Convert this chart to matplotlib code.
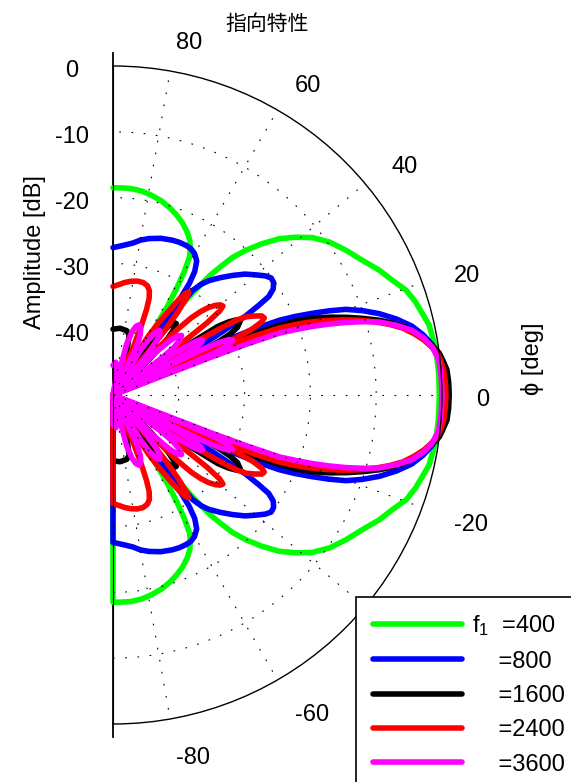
import numpy as np
import matplotlib
matplotlib.use('Agg')
import matplotlib.pyplot as plt
from matplotlib.transforms import ScaledTranslation

plt.rcParams['font.family'] = ['Liberation Sans', 'Noto Sans CJK JP', 'DejaVu Sans']
plt.rcParams['font.size'] = 17
plt.rcParams['mathtext.fontset'] = 'custom'
plt.rcParams['mathtext.rm'] = 'Liberation Sans'
plt.rcParams['mathtext.it'] = 'Liberation Sans'

# upper half (0..90 deg), the pattern is symmetric
green_ang = [0, 4, 8.2, 12.5, 17.1, 19.7, 22.3, 25.1, 28.3, 31.8, 35.2, 38.3, 40.8, 43.2, 45.5, 47.5,
             49, 50, 51, 52, 53, 54.2, 55.3, 56.2, 56.8, 57.5,
             58, 58.5, 59.2, 60, 61, 62, 63.5, 65.5, 68, 70.5, 73, 76, 79, 82, 85, 88, 90]
green_db = [-0.4, -0.4, -0.45, -0.8, -1.9, -2.7, -4.1, -5.3, -6.9, -8.3, -9.7, -11.4, -13.3, -15.3, -17.8, -20.2,
            -22.3, -24.5, -26.7, -30.3, -33.9, -35.8, -37.4, -39, -40.6, -50,
            -38, -34, -31, -28.3, -26, -25, -23.8, -22.8, -21.8, -21, -20.3, -19.6, -19.1, -18.7, -18.5, -18.5, -18.5]

blue_ang = [0, 3, 6, 9, 11, 13, 15, 17, 18.7, 20.2, 21.3, 22.3, 23.3, 24.2, 25, 25.7, 26.5, 27.3,
            28.8, 29.8, 30.8, 31.6, 32.3, 33.5, 35, 36.5, 38, 40, 42.5, 45, 47.5, 50, 51.5, 52.7, 53.5, 54.2,
            55, 55.6, 56.5, 58, 60, 62, 64, 66.5, 69, 73, 77, 80, 82.5, 86, 90]
blue_db = [0.6, 0.5, 0, -0.9, -2, -3.4, -5.4, -7.7, -10, -12.3, -14.8, -17.3, -19.8, -22.3, -26, -30, -36, -50,
           -40, -32, -26.5, -24, -22, -20.8, -20.2, -20.1, -20.6, -21.6, -22.8, -24.3, -25.8, -27.3, -28.5, -30, -34, -50,
           -33, -29.5, -27.5, -26, -25.2, -24.8, -24.7, -24.7, -24.8, -25.1, -25.6, -26.1, -26.7, -27.2, -27.6]

black_ang = [0, 2.2, 4.3, 6, 7.3, 8.6, 9.9, 11.5, 13, 14.4, 15.7, 17, 18.4, 19.8, 21.1, 22, 22.7, 23.3, 23.8, 24.6, 25.3,
             26, 26.8, 27.5, 28.5, 30, 31.3, 32.3, 33.2, 34.2, 35,
             43, 44.5, 46, 47.3, 48.5, 49.8, 51, 53, 54.2, 55,
             56, 58, 61, 64, 66,
             70, 71.5, 73, 75, 78, 84, 90]
black_db = [1.1, 1.05, 0.9, 0.4, 0, -0.8, -1.7, -3, -4.3, -6.1, -8, -10.2, -12.6, -15.1, -17.6, -20, -22.6, -26, -30, -38, -50,
            -40, -32, -30, -28.5, -27.7, -28, -29.2, -31, -38, -50,
            -50, -42, -38, -36.2, -35.5, -35.6, -36.5, -39.5, -44, -50,
            -50, -45, -43.5, -45, -50,
            -50, -45, -42.5, -40.5, -40, -39.8, -40]

red_ang = [0, 2.2, 4.3, 5.7, 7, 8.5, 10, 11.5, 13, 14.3, 15.5, 16.8, 18, 19.3, 20.5, 21.3, 22, 22.6, 23, 23.6,
           24.2, 24.8, 25.4, 26.2, 27, 28, 29.2, 30.4, 31.2, 31.8, 32.4, 33,
           36.5, 37, 37.5, 38.2, 39, 40, 41.2, 42.5, 43.6, 44.6, 45.5, 46.2, 46.8,
           50, 50.6, 51.3, 52, 52.8, 53.6, 54.5, 55.5, 56.6, 57.8, 59, 60.2, 61,
           66, 67, 67.8, 68.6, 69.5, 70.8, 72.5, 75, 78, 81, 84, 87, 90]
red_db = [0.6, 0.55, 0.4, 0.15, -0.2, -1, -2, -3.3, -4.8, -6.6, -8.5, -10.7, -13, -15.8, -18.5, -20.8, -23, -26.5, -30, -50,
          -38, -30, -26.5, -24.8, -24.2, -24.4, -25.4, -26.5, -28, -30.5, -34, -50,
          -50, -37, -32, -29.4, -28.5, -28.7, -29.3, -30.3, -31.6, -33.3, -36, -40, -50,
          -50, -42, -37.5, -34, -31.6, -30.6, -31, -32.6, -35, -37.2, -39.5, -43, -50,
          -50, -42, -38.5, -36, -34.3, -33.2, -32.6, -32.3, -32.3, -32.5, -32.8, -33.2, -33.5]

magenta_ang = [0, 3, 6.1, 8.5, 10.4, 12.2, 13.8, 15.3, 16.3, 17.3, 18.2, 19, 19.7, 20.4, 20.8, 21.1, 21.5,
               22, 22.6, 23.5, 24.5, 25.5, 26.3, 27, 27.6, 28,
               28.5, 29, 29.7, 30.5, 31.4, 32.3, 33.2, 34.2, 35,
               36, 37, 38, 39.5, 41, 42.5, 43.7, 45, 46,
               48, 49.5, 50.8, 52.3, 54, 55.7, 57.2, 58.5, 60,
               62, 64, 65.6, 67.5, 69.5, 71.5, 73.3, 75, 77,
               78.5, 80, 82, 85, 88, 90]
magenta_db = [0, -0.05, -0.2, -0.9, -2, -3.5, -5.6, -8, -10.3, -12.9, -15.5, -18, -20.5, -23, -28, -34, -50,
              -38, -33, -30.8, -30, -30.4, -32, -35, -40, -50,
              -50, -40, -36.5, -34.6, -34, -34.3, -35.5, -39, -50,
              -50, -41, -38.2, -36.8, -36.2, -36.7, -38, -41, -50,
              -50, -42, -39.6, -38.4, -37.9, -38.4, -39.8, -42, -50,
              -50, -42, -40, -39, -38.6, -39, -40, -42, -50,
              -50, -47, -45.8, -45, -45.3, -45.5]

series = [(green_ang, green_db), (blue_ang, blue_db), (black_ang, black_db),
          (red_ang, red_db), (magenta_ang, magenta_db)]
colors = ['#00ff00', '#0000ff', '#000000', '#ff0000', '#ff00ff']
labels = ['f$_1$  =400', '    =800', '    =1600', '    =2400', '    =3600']

theta_ticks = [80, 60, 40, 20, 0, -20, -40, -60, -80]
r_ticks = [0, -10, -20, -30, -40]

fig = plt.figure(figsize=(5.71, 7.82), dpi=100)
# square box, the half disc sits in its middle: centre at x=113 px, radius 329 px
ax = fig.add_axes([-51.5 / 571, 58 / 782, 658 / 571, 658 / 782], projection='polar')
ax.set_thetamin(-90)
ax.set_thetamax(90)
ax.set_rlim(-50, 0)
ax.set_thetagrids(range(-80, 81, 20), labels=[''] * 9)
ax.set_rgrids([-40, -30, -20, -10], labels=[''] * 4)
ax.grid(True, color='k', linestyle=(0, (1.5, 9.5)), linewidth=0.8)
ax.set_axisbelow(False)
ax.tick_params(length=0)
ax.spines['polar'].set_linewidth(1.0)
ax.spines['start'].set_visible(False)
ax.spines['end'].set_visible(False)

# vertical axis line, a bit longer than the circle
for t in (np.pi / 2, -np.pi / 2):
    ax.plot([t, t], [-50, 2.0], color='k', lw=1.3, clip_on=False, zorder=1.5)

lines = []
for (ang, db), c in zip(series, colors):
    th = [-90] + [-a for a in ang[::-1]] + ang[1:]
    rr = [-50] + db[::-1] + db[1:]
    ln, = ax.plot(np.deg2rad(th), rr, color=c, lw=4, clip_on=False,
                  solid_joinstyle='round', solid_capstyle='round')
    lines.append(ln)

down = ScaledTranslation(0, -11.4 / 100, fig.dpi_scale_trans)
for a in theta_ticks:
    ax.text(np.deg2rad(a), 5.2, str(a), ha='left', va='baseline',
            transform=ax.transData + down, clip_on=False, zorder=3)

left = ScaledTranslation(-41.5 / 100, -11.4 / 100, fig.dpi_scale_trans)
for r in r_ticks:
    ax.text(np.pi / 2, r, str(r), ha='center', va='baseline',
            transform=ax.transData + left, clip_on=False)

fig.text(35 / 571, 1 - 252 / 782, 'Amplitude [dB]', rotation=90, ha='center', va='center')
fig.text(533 / 571, 1 - 359 / 782, 'ϕ [deg]', rotation=90, ha='center', va='center')
fig.text(267 / 571, 1 - 24 / 782, '指向特性', ha='center', va='center', fontsize=15)

# legend runs off the right and bottom edges as in the original
leg = ax.legend(lines, labels, loc='upper left', mode='expand',
                bbox_to_anchor=(356 / 571, 0, 240 / 571, 1 - 597 / 782),
                bbox_transform=fig.transFigure, borderaxespad=0, fancybox=False,
                framealpha=1, edgecolor='k', handlelength=3.8, handletextpad=0.4,
                labelspacing=0.52, borderpad=0.7)
leg.get_frame().set_linewidth(1.2)
leg.set_zorder(10)

fig.savefig('out.png', dpi=100)
